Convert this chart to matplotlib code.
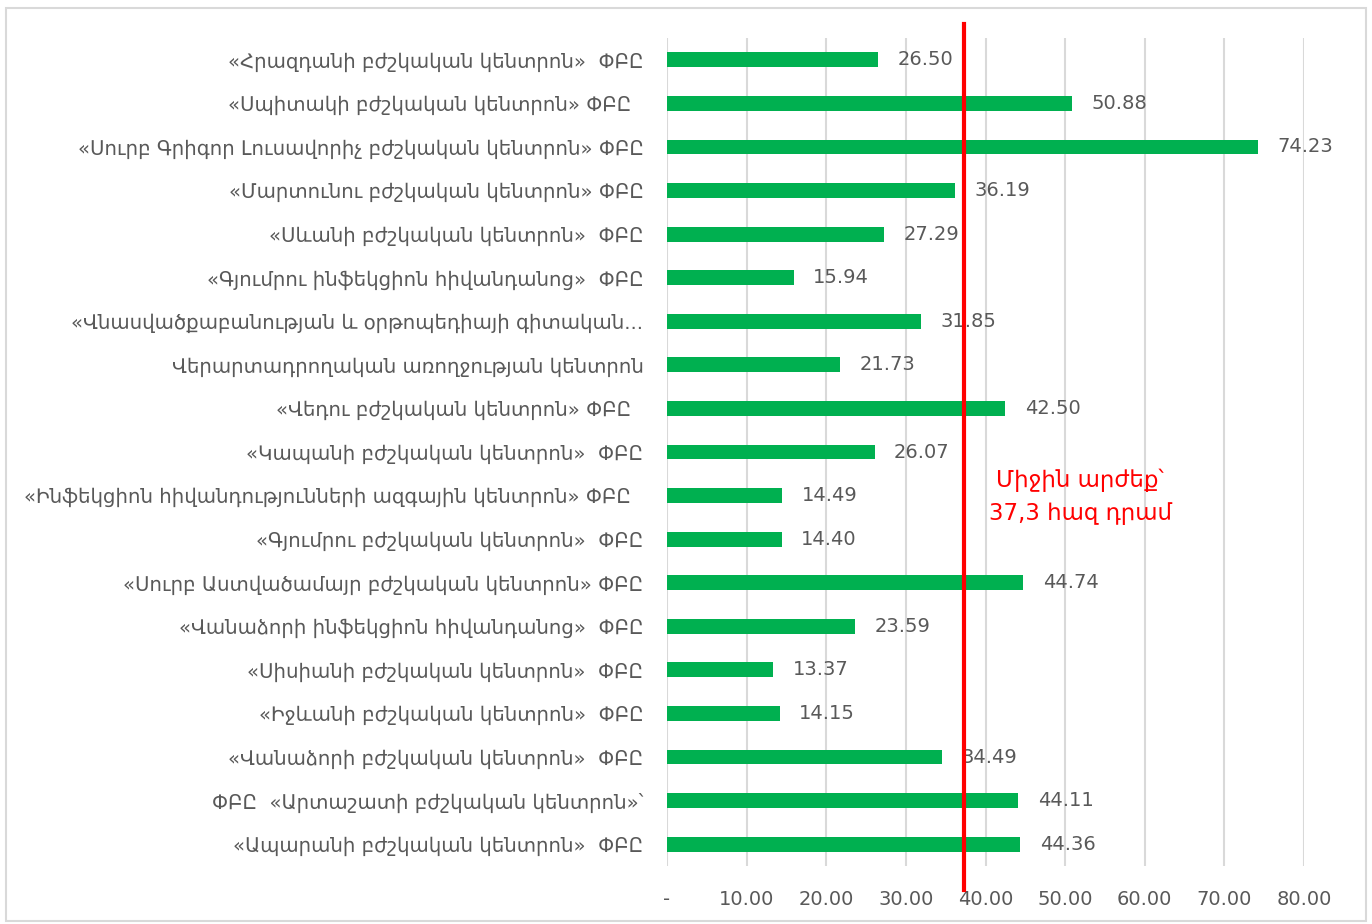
import matplotlib
matplotlib.use("Agg")
import matplotlib.pyplot as plt
import matplotlib.transforms as mtransforms
from matplotlib.patches import Rectangle

plt.rcParams['font.family'] = ['DejaVu Sans']

categories = [
    "«Հրազդանի բժշկական կենտրոն»  ՓԲԸ",
    "«Սպիտակի բժշկական կենտրոն» ՓԲԸ  ",
    "«Սուրբ Գրիգոր Լուսավորիչ բժշկական կենտրոն» ՓԲԸ",
    "«Մարտունու բժշկական կենտրոն» ՓԲԸ",
    "«Սևանի բժշկական կենտրոն»  ՓԲԸ",
    "«Գյումրու ինֆեկցիոն հիվանդանոց»  ՓԲԸ",
    "«Վնասվածքաբանության և օրթոպեդիայի գիտական...",
    "Վերարտադրողական առողջության կենտրոն",
    "«Վեդու բժշկական կենտրոն» ՓԲԸ  ",
    "«Կապանի բժշկական կենտրոն»  ՓԲԸ",
    "«Ինֆեկցիոն հիվանդությունների ազգային կենտրոն» ՓԲԸ  ",
    "«Գյումրու բժշկական կենտրոն»  ՓԲԸ",
    "«Սուրբ Աստվածամայր բժշկական կենտրոն» ՓԲԸ",
    "«Վանաձորի ինֆեկցիոն հիվանդանոց»  ՓԲԸ",
    "«Սիսիանի բժշկական կենտրոն»  ՓԲԸ",
    "«Իջևանի բժշկական կենտրոն»  ՓԲԸ",
    "«Վանաձորի բժշկական կենտրոն»  ՓԲԸ",
    "ՓԲԸ  «Արտաշատի բժշկական կենտրոն»՝",
    "«Ապարանի բժշկական կենտրոն»  ՓԲԸ",
]
values = [26.50, 50.88, 74.23, 36.19, 27.29, 15.94, 31.85, 21.73, 42.50, 26.07,
          14.49, 14.40, 44.74, 23.59, 13.37, 14.15, 34.49, 44.11, 44.36]
average = 37.3
avg_text = "Միջին արժեք՝\n37,3 հազ դրամ"
xticks = [0, 10, 20, 30, 40, 50, 60, 70, 80]
xtick_labels = ["-", "10.00", "20.00", "30.00", "40.00", "50.00", "60.00", "70.00", "80.00"]

W, H = 1372, 924
fig = plt.figure(figsize=(W / 100, H / 100), dpi=100)
ax = fig.add_axes([667 / W, (H - 866) / H, (1304 - 667) / W, (866 - 38) / H])

gray = "#595959"
n = len(categories)
ypos = list(range(n))
ax.barh(ypos, values, height=0.34, color="#00B050", zorder=2)
ax.set_ylim(n - 0.5, -0.5)
ax.set_xlim(0, 80)

ax.set_yticks(ypos)
ax.set_yticklabels(categories, fontsize=14.2, color=gray)
ax.set_xticks(xticks)
ax.set_xticklabels(xtick_labels, fontsize=14, color=gray)
ax.tick_params(axis='y', length=0, pad=17)
ax.tick_params(axis='x', length=0, pad=17)
for s in ax.spines.values():
    s.set_visible(False)
ax.grid(axis='x', color="#D9D9D9", linewidth=1.5, zorder=0)
ax.set_axisbelow(True)

for y, v in zip(ypos, values):
    ax.annotate(f"{v:.2f}", xy=(v, y), xytext=(14, 0), textcoords='offset points',
                va='center', ha='left', fontsize=14, color=gray, zorder=3)

trans = mtransforms.blended_transform_factory(ax.transData, ax.transAxes)
ax.plot([average, average], [-0.029, 1.017], transform=trans, color="#FF0000",
        linewidth=3, clip_on=False, zorder=4)
ax.text(51.9, 10.03, avg_text, ha='center', va='center', fontsize=16.5,
        color="#FF0000", linespacing=1.55, zorder=5)

fig.patches.append(Rectangle((6 / W, 3 / H), (1366 - 6) / W, (916 - 3) / H,
                             transform=fig.transFigure, fill=False,
                             edgecolor="#D9D9D9", linewidth=1.5))

fig.savefig("out.png", dpi=100)
